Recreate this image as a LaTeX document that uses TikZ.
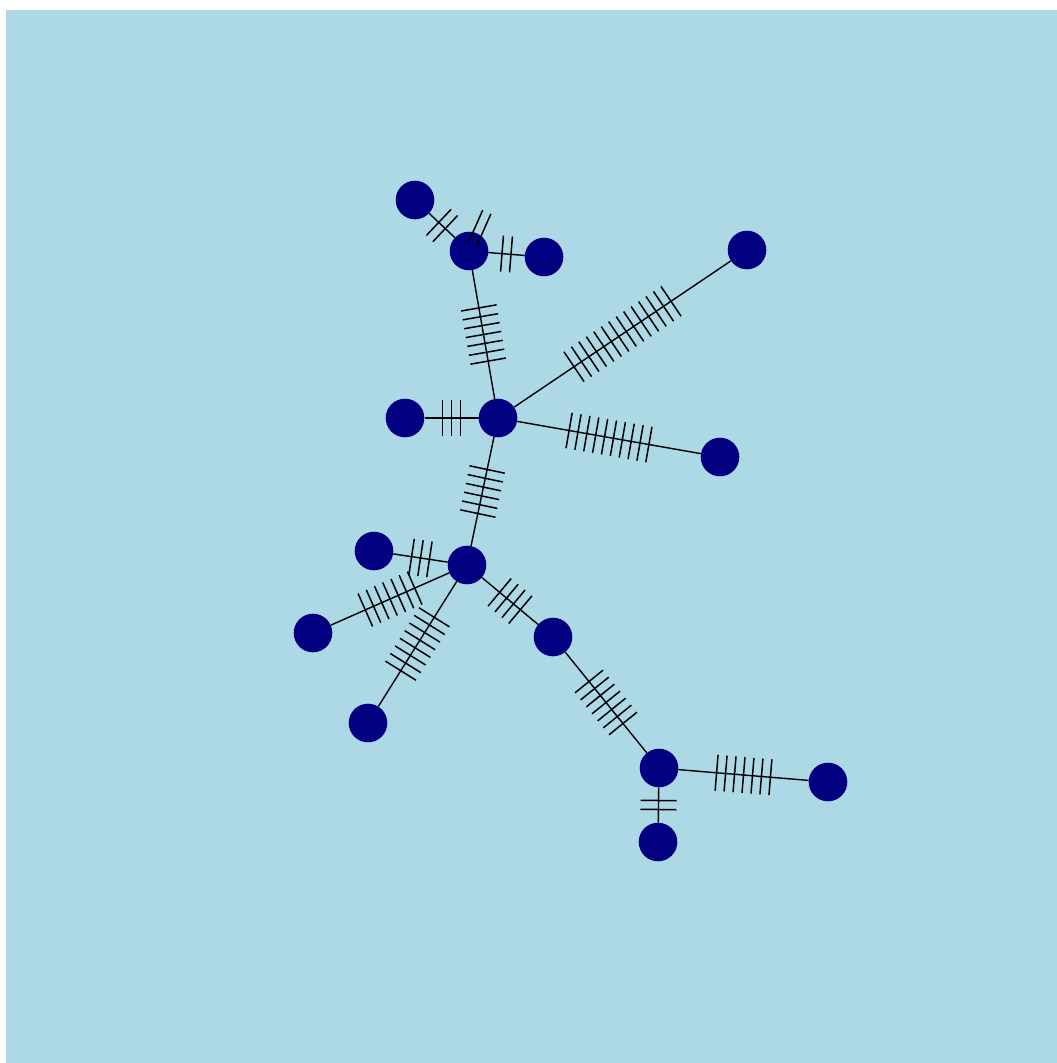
\documentclass[tikz,border=0pt]{standalone}
\usepackage{tikz}
\usetikzlibrary{calc}
\definecolor{bgblue}{RGB}{173,216,230}
\definecolor{vertexblue}{RGB}{0,0,128}
\definecolor{faintgrey}{RGB}{206,199,199}
% edge between two vertices, with #4 cross ticks round its middle
\newcommand{\tickedge}[4][edge]{%
  \draw[#1] (#2) -- (#3);
  \foreach \k [evaluate=\k as \off using (\k-(#4+1)/2)*9] in {1,...,#4}{
    \coordinate (tk) at ($(#2)!0.5!(#3)!\off pt!(#3)$);
    \draw[tickmark] ($(tk)!18pt!90:(#3)$) -- ($(tk)!18pt!-90:(#3)$);
  }%
}

\begin{document}
\begin{tikzpicture}[x=1pt,y=-1pt,
    vertex/.style={circle,fill=vertexblue,inner sep=0pt,minimum size=38.6pt},
    edge/.style={line width=1.4pt,black},
    faint/.style={line width=1.4pt,faintgrey,dash pattern=on 8pt off 8pt},
    tickmark/.style={line width=1.5pt,black}]
  % Page and background
  \fill[white] (0,0) rectangle (1057,1063);
  \fill[bgblue] (6,10) rectangle (1057,1063);

  % Vertices
  \node[vertex] (a) at (415,200) {};
  \node[vertex] (b) at (469,251) {};
  \node[vertex] (c) at (544,257) {};
  \node[vertex] (d) at (747,250) {};
  \node[vertex] (e) at (498,418) {};
  \node[vertex] (f) at (405,418) {};
  \node[vertex] (g) at (720,457) {};
  \node[vertex] (h) at (467,565) {};
  \node[vertex] (i) at (374,551) {};
  \node[vertex] (j) at (313,633) {};
  \node[vertex] (k) at (368,723) {};
  \node[vertex] (l) at (553,637) {};
  \node[vertex] (m) at (659,768) {};
  \node[vertex] (n) at (828,782) {};
  \node[vertex] (o) at (658,842) {};

  % Edges with their ticks
  \tickedge[faint]{a}{c}{2}
  \tickedge{a}{b}{2}
  \tickedge{b}{c}{2}
  \tickedge{b}{e}{7}
  \tickedge{e}{d}{14}
  \tickedge{f}{e}{3}
  \tickedge{e}{g}{10}
  \tickedge{e}{h}{6}
  \tickedge{i}{h}{3}
  \tickedge{j}{h}{7}
  \tickedge{k}{h}{8}
  \tickedge{h}{l}{4}
  \tickedge{l}{m}{7}
  \tickedge{m}{n}{7}
  \tickedge{m}{o}{2}
\end{tikzpicture}
\end{document}
